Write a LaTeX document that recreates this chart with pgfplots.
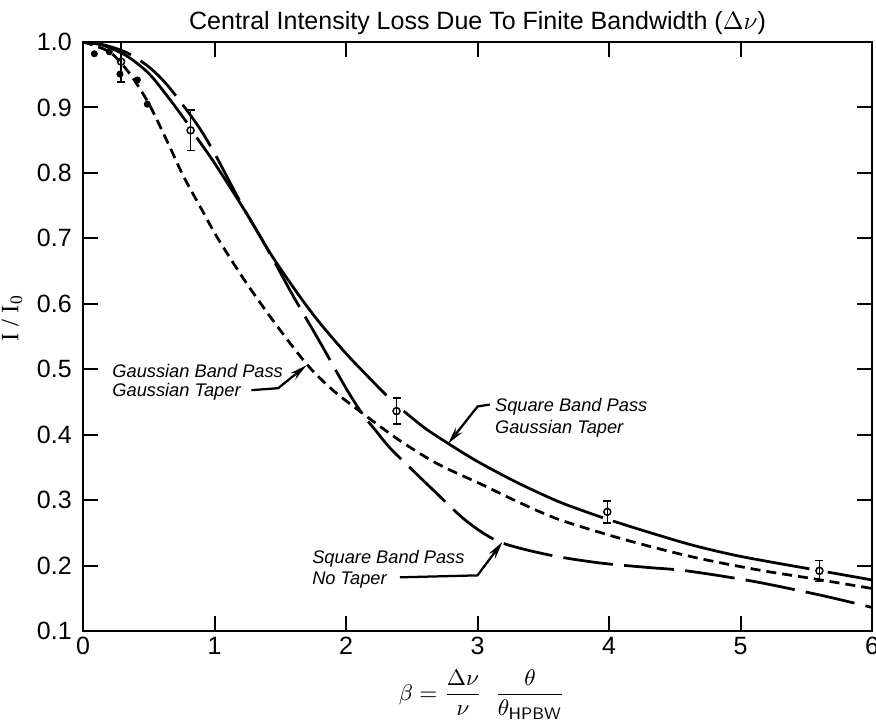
\documentclass[border=0pt]{standalone}
\usepackage{fontspec}
\setmainfont{Liberation Sans}
\newfontfamily\seriffont{Liberation Serif}
\usepackage{pgfplots}
\pgfplotsset{compat=1.18}
\usetikzlibrary{arrows.meta}
\begin{document}
\begin{tikzpicture}
\begin{axis}[
  name=ax,
  width=315.6pt, height=235.6pt, scale only axis,
  xmin=0, xmax=6, ymin=0.1, ymax=1.0,
  xtick={0,1,2,3,4,5,6},
  ytick={0.1,0.2,0.3,0.4,0.5,0.6,0.7,0.8,0.9,1.0},
  tick align=inside, major tick length=6pt,
  axis line style={line width=0.8pt},
  every tick/.style={line width=0.8pt, black},
  /pgf/number format/assume math mode=true,
  tick label style={font=\fontsize{10}{12}\selectfont},
  yticklabel style={/pgf/number format/fixed, /pgf/number format/fixed zerofill, /pgf/number format/precision=1, xshift=-1pt},
  xticklabel style={yshift=1pt},
  every axis plot/.append style={black},
]
% Square Band Pass, Gaussian Taper (solid, broken at the error bars)
\addplot[line width=1.1pt, smooth, tension=0.5] coordinates {(0,1.0)(0.15,0.995)(0.33,0.979)(0.5,0.952)(0.65,0.915)(0.79,0.877)};
\addplot[line width=1.1pt, smooth, tension=0.5] coordinates {(0.864,0.854)(1.0,0.815)(1.244,0.738)(1.434,0.674)(1.649,0.611)(1.8,0.571)(2.0,0.524)(2.2,0.482)(2.308,0.460)};
\addplot[line width=1.1pt, smooth, tension=0.5] coordinates {(2.439,0.436)(2.6,0.410)(2.789,0.385)(3.0,0.359)(3.3,0.327)(3.625,0.297)(3.954,0.273)};
\addplot[line width=1.1pt, smooth, tension=0.5] coordinates {(4.03,0.268)(4.3,0.251)(4.638,0.231)(5.0,0.214)(5.524,0.195)};
\addplot[line width=1.1pt, smooth, tension=0.5] coordinates {(5.663,0.190)(6.0,0.178)};
% Square Band Pass, No Taper (long dash)
\addplot[line width=1.1pt, smooth, tension=0.5, dash pattern=on 20pt off 4.5pt] coordinates {(0,1.0)(0.15,0.996)(0.33,0.984)(0.5,0.962)(0.65,0.932)(0.864,0.875)(1.0,0.830)(1.216,0.748)(1.35,0.702)(1.459,0.663)(1.598,0.612)(1.8,0.542)(2.0,0.471)(2.13,0.430)(2.219,0.408)(2.333,0.380)(2.5,0.347)(2.66,0.316)(2.916,0.268)(3.169,0.236)(3.549,0.216)(3.929,0.204)(4.3,0.197)(4.587,0.192)(5.094,0.176)(5.625,0.154)(6.0,0.136)};
% Gaussian Band Pass, Gaussian Taper (short dash)
\addplot[line width=1.1pt, smooth, tension=0.5, dash pattern=on 4pt off 2.4pt] coordinates {(0,1.0)(0.2,0.985)(0.35,0.953)(0.5,0.906)(0.65,0.844)(0.761,0.796)(0.9,0.745)(1.016,0.703)(1.15,0.660)(1.269,0.624)(1.45,0.573)(1.70,0.508)(1.9,0.468)(2.13,0.432)(2.409,0.391)(2.7,0.355)(3.042,0.323)(3.3,0.298)(3.625,0.270)(4.131,0.239)(4.638,0.213)(5.144,0.193)(5.549,0.180)(6.0,0.165)};
% measured points with error bars
\addplot[only marks, mark=o, mark size=1.4pt, mark options={fill=white, line width=0.6pt, solid},
  error bars/.cd, y dir=both, y explicit,
  error bar style={line width=0.6pt, solid},
  error mark options={rotate=90, mark size=1.6pt, line width=0.6pt, solid}]
  coordinates {(0.29,0.970) +- (0,0.031) (0.818,0.865) +- (0,0.031) (2.384,0.436) +- (0,0.020) (3.987,0.282) +- (0,0.017) (5.60,0.192) +- (0,0.016)};
% filled points
\addplot[only marks, mark=*, mark size=1.2pt] coordinates {(0.086,0.982)(0.2,0.985)(0.281,0.951)(0.413,0.942)(0.489,0.905)};
% annotations
\begin{scope}[every node/.style={anchor=base west, inner sep=0, font=\fontsize{7.3}{8.4}\selectfont\itshape}]
\node at (axis cs:0.22,0.487) {Gaussian Band Pass};
\node at (axis cs:0.22,0.459) {Gaussian Taper};
\node at (axis cs:3.13,0.435) {Square Band Pass};
\node at (axis cs:3.13,0.402) {Gaussian Taper};
\node at (axis cs:1.74,0.203) {Square Band Pass};
\node at (axis cs:1.74,0.171) {No Taper};
\end{scope}
\draw[line width=0.9pt, -{Stealth[length=7pt,width=3.2pt]}] (axis cs:1.28,0.468) -- (axis cs:1.484,0.471) -- (axis cs:1.70,0.506);
\draw[line width=0.9pt, -{Stealth[length=7pt,width=3.2pt]}] (axis cs:3.093,0.446) -- (axis cs:3.0,0.443) -- (axis cs:2.776,0.386);
\draw[line width=0.9pt, -{Stealth[length=7pt,width=3.2pt]}] (axis cs:2.409,0.182) -- (axis cs:3.0,0.185) -- (axis cs:3.19,0.236);
\end{axis}
\node[anchor=base, inner sep=0, font=\fontsize{10}{12}\selectfont] at ([yshift=4.8pt]ax.north) {Central Intensity Loss Due To Finite Bandwidth ($\Delta\nu$)};
\node[rotate=90, anchor=center, inner sep=0, font=\fontsize{10}{12}\selectfont\seriffont] at ([shift={(-28.4pt,7.4pt)}]ax.west) {I / I\textsubscript{0}};
\node[anchor=south, inner sep=0, font=\fontsize{9.5}{11}\selectfont] at ([shift={(1.8pt,-35.6pt)}]ax.south) {$\displaystyle \beta = \frac{\Delta\nu}{\nu}\;\; \frac{\theta}{\theta_{\mathsf{HPBW}}}$};
\pgfresetboundingbox
\path ([shift={(-33.2pt,-36.4pt)}]ax.south west) rectangle ([shift={(1.6pt,16.8pt)}]ax.north east);
\end{tikzpicture}
\end{document}
